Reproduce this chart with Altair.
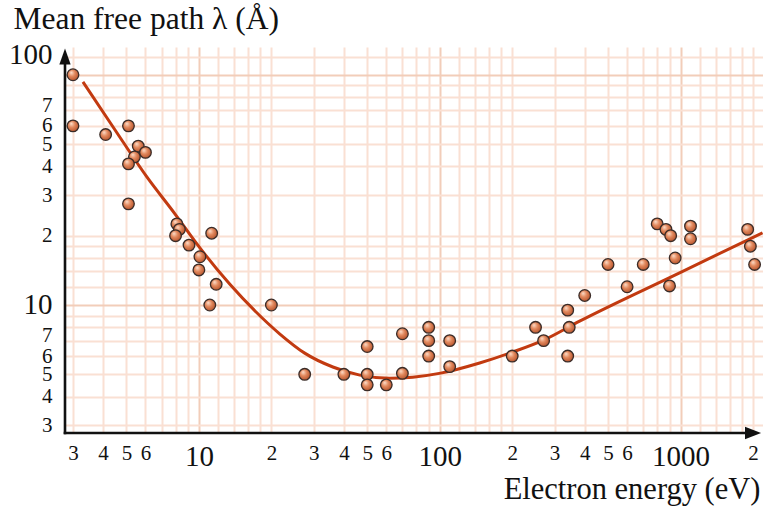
import json
import altair as alt
import pandas as pd

# Measured points: electron energy (eV) and inelastic mean free path (Å)
energy = [3, 3, 4.1, 5.1, 5.6, 6, 5.4, 5.1, 5.1, 8.1, 8.3, 8, 9.1, 10.1, 10, 11.3,
          11.8, 11.1, 20, 27.5, 40, 50, 50, 50, 60, 70, 70, 90, 90, 90, 110, 110,
          200, 250, 270, 340, 345, 340, 400, 500, 600, 700, 800, 870, 910, 950,
          900, 1100, 1100, 1900, 1950, 2030]
mfp = [100, 60, 55, 60, 49, 46, 44, 41, 27.5, 22.5, 21.3, 20, 18.2, 16.2, 14.2, 20.5,
       12.3, 10, 10, 5, 5, 5, 4.5, 6.6, 4.5, 5.05, 7.5, 8, 7, 6, 7, 5.4,
       6, 8, 7, 9.5, 8, 6, 11, 15, 12, 15, 22.5, 21.3, 20, 16,
       12.1, 22, 19.4, 21.3, 18, 15]

# Universal curve through the data
curve_energy = [3.3, 4.48, 6.08, 7.95, 10.1, 13.45, 17.1, 21.7, 27.5, 36.0, 46.6,
                62, 77.3, 101, 146.5, 201, 270, 381, 991, 2190]
curve_mfp = [93.2, 57.7, 36.0, 24.9, 17.7, 12.3, 9.42, 7.48, 6.18, 5.38, 4.96,
             4.81, 4.86, 5.06, 5.60, 6.25, 7.04, 8.51, 13.8, 20.6]

# Log-paper grid lines and the labelled ticks
x_grid = [3, 4, 5, 6, 7, 8, 9, 10, 12, 14, 16, 18, 20, 30, 40, 50, 60, 70, 80, 90,
          100, 120, 140, 160, 180, 200, 300, 400, 500, 600, 700, 800, 900,
          1000, 1200, 1400, 1600, 1800, 2000]
y_grid = [3, 4, 5, 6, 7, 8, 9, 10, 12, 14, 16, 18, 20, 30, 40, 50, 60, 70, 80, 90,
          100, 120]
x_label_values = [3, 4, 5, 6, 10, 20, 30, 40, 50, 60, 100, 200, 300, 400, 500, 600, 1000, 2000]
x_label_texts = ["3", "4", "5", "6", "10", "2", "3", "4", "5", "6", "100", "2", "3", "4",
                 "5", "6", "1000", "2"]
y_label_values = [3, 4, 5, 6, 7, 10, 20, 30, 40, 50, 60, 70, 100]
y_label_texts = ["3", "4", "5", "6", "7", "10", "2", "3", "4", "5", "6", "7", "100"]

x_min, x_max = 2.78, 2200
y_min, y_max = 2.78, 132
x_arrow, y_arrow = 2000, 120

FONT = "Liberation Serif"
INK = "#111111"


def label_expr(values, texts):
    v = json.dumps(values)
    t = json.dumps(texts)
    return f"indexof({v}, datum.value) >= 0 ? {t}[indexof({v}, datum.value)] : ''"


decade_test = "datum.value == 10 || datum.value == 100 || datum.value == 1000"
grid_color = {"condition": {"test": decade_test, "value": "#f2cdb9"}, "value": "#fae0d3"}
label_size = {"condition": {"test": decade_test, "value": 29}, "value": 21}

x_scale = alt.Scale(type="log", domain=[x_min, x_max], nice=False)
y_scale = alt.Scale(type="log", domain=[y_min, y_max], nice=False)

x_axis = alt.Axis(
    values=x_grid, labelExpr=label_expr(x_label_values, x_label_texts),
    domain=False, ticks=False, grid=True, gridColor=grid_color, gridWidth=2,
    labelFont=FONT, labelFontSize=label_size, labelColor=INK, labelPadding=9,
    labelOverlap=False, labelFlush=False, labelBound=False,
    title="Electron energy (eV)", titleFont=FONT, titleFontSize=30.5,
    titleFontWeight="normal", titleColor=INK, titleAlign="right",
    titleBaseline="alphabetic", titleAnchor="end", titleX=695, titleY=65,
)
# the 7s sit a little above their lines; the top "100" sits beside the arrow head
y_axis = alt.Axis(
    values=y_grid, labelExpr=label_expr(y_label_values, y_label_texts),
    domain=False, ticks=False, grid=True, gridColor=grid_color, gridWidth=2,
    labelFont=FONT, labelFontSize=label_size, labelColor=INK, labelPadding=13,
    labelOffset={"condition": {"test": "datum.value == 7 || datum.value == 70 || datum.value == 100",
                               "value": -5}, "value": 0},
    labelBaseline={"condition": {"test": "datum.value == 100", "value": "bottom"},
                   "value": "middle"},
    labelOverlap=False, labelFlush=False, labelBound=False,
    title="Mean free path λ (Å)", titleFont=FONT, titleFontSize=31.5,
    titleFontWeight="normal", titleColor=INK, titleAngle=0, titleAlign="left",
    titleBaseline="alphabetic", titleX=-52, titleY=-19,
)


def X(field="energy"):
    return alt.X(f"{field}:Q", scale=x_scale, axis=x_axis)


def Y(field="mfp"):
    return alt.Y(f"{field}:Q", scale=y_scale, axis=y_axis)


points_df = pd.DataFrame({"energy": energy, "mfp": mfp})
curve_df = pd.DataFrame({"energy": curve_energy, "mfp": curve_mfp})
xaxis_df = pd.DataFrame({"energy": [x_min], "energy2": [x_arrow], "mfp": [y_min]})
yaxis_df = pd.DataFrame({"energy": [x_min], "mfp": [y_min], "mfp2": [y_arrow]})
arrow_df = pd.DataFrame({
    "energy": [x_arrow, x_min],
    "mfp": [y_min, y_arrow],
    "shape": ["M-1,-0.78L1,0L-1,0.78Z", "M-0.7,1L0,-1L0.7,1Z"],
})

sphere = {
    "gradient": "radial",
    "x1": 0.35, "y1": 0.3, "r1": 0.0,
    "x2": 0.45, "y2": 0.45, "r2": 0.6,
    "stops": [
        {"offset": 0.0, "color": "#fde1cf"},
        {"offset": 0.45, "color": "#e38a5f"},
        {"offset": 1.0, "color": "#b24f28"},
    ],
}

curve = alt.Chart(curve_df).mark_line(
    color="#c23a10", strokeWidth=3, interpolate="monotone"
).encode(x=X(), y=Y())

x_line = alt.Chart(xaxis_df).mark_rule(color=INK, strokeWidth=2.6, strokeCap="square").encode(
    x=X(), x2="energy2:Q", y=Y(),
)
y_line = alt.Chart(yaxis_df).mark_rule(color=INK, strokeWidth=2.6, strokeCap="square").encode(
    x=X(), y=Y(), y2="mfp2:Q",
)
arrows = alt.Chart(arrow_df).mark_point(
    filled=True, color=INK, size=260, opacity=1, strokeWidth=0
).encode(
    x=X(), y=Y(),
    shape=alt.Shape("shape:N", scale=None, legend=None),
)

points = alt.Chart(points_df).mark_circle(
    size=135, fill=sphere, stroke="#3a2c28", strokeWidth=1.3, opacity=1
).encode(x=X(), y=Y())

chart = alt.layer(curve, x_line, y_line, arrows, points).properties(
    width=698,
    height=386,
    autosize=alt.AutoSizeParams(type="none"),
    padding={"left": 65, "top": 47, "right": 0, "bottom": 77},
    background="white",
).configure_view(stroke=None)

chart.save("out.html", embed_options={"renderer": "svg", "actions": False})
